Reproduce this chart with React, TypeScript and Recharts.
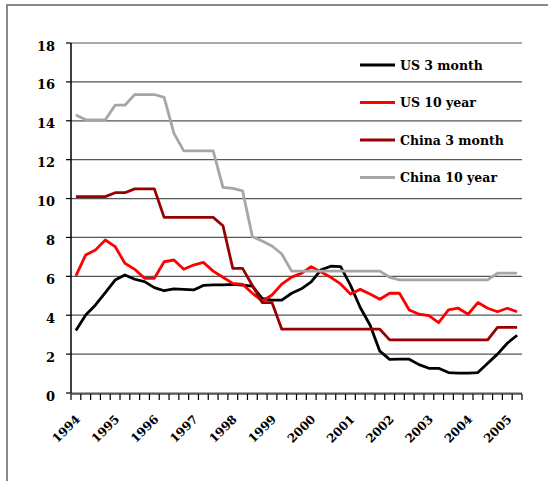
import React from 'react';
import { LineChart, Line, XAxis, YAxis, CartesianGrid } from 'recharts';

// Quarterly categories 1994Q1 .. 2005Q2
const quarters = [
  '1994Q1', '1994Q2', '1994Q3', '1994Q4', '1995Q1', '1995Q2', '1995Q3', '1995Q4',
  '1996Q1', '1996Q2', '1996Q3', '1996Q4', '1997Q1', '1997Q2', '1997Q3', '1997Q4',
  '1998Q1', '1998Q2', '1998Q3', '1998Q4', '1999Q1', '1999Q2', '1999Q3', '1999Q4',
  '2000Q1', '2000Q2', '2000Q3', '2000Q4', '2001Q1', '2001Q2', '2001Q3', '2001Q4',
  '2002Q1', '2002Q2', '2002Q3', '2002Q4', '2003Q1', '2003Q2', '2003Q3', '2003Q4',
  '2004Q1', '2004Q2', '2004Q3', '2004Q4', '2005Q1', '2005Q2',
];

const us3 = [
  3.21, 4.01, 4.53, 5.16, 5.81, 6.07, 5.85, 5.73, 5.42, 5.26, 5.35, 5.33,
  5.30, 5.53, 5.56, 5.56, 5.59, 5.55, 5.50, 4.86, 4.78, 4.78, 5.13, 5.36,
  5.71, 6.33, 6.52, 6.50, 5.55, 4.40, 3.50, 2.15, 1.73, 1.74, 1.74, 1.46,
  1.27, 1.27, 1.05, 1.02, 1.02, 1.05, 1.53, 2.00, 2.56, 2.97,
];
const us10 = [
  6.02, 7.10, 7.36, 7.87, 7.53, 6.67, 6.36, 5.90, 5.90, 6.75, 6.84, 6.36,
  6.58, 6.72, 6.27, 5.95, 5.64, 5.59, 5.13, 4.72, 5.04, 5.60, 5.96, 6.15,
  6.50, 6.22, 5.95, 5.61, 5.09, 5.33, 5.09, 4.82, 5.13, 5.13, 4.27, 4.05,
  3.98, 3.62, 4.27, 4.36, 4.05, 4.65, 4.36, 4.18, 4.36, 4.18,
];
const cn3 = [
  10.1, 10.1, 10.1, 10.1, 10.3, 10.3, 10.5, 10.5, 10.5, 9.03, 9.03, 9.03,
  9.03, 9.03, 9.03, 8.6, 6.41, 6.41, 5.53, 4.65, 4.65, 3.28, 3.28, 3.28,
  3.28, 3.28, 3.28, 3.28, 3.28, 3.28, 3.28, 3.28, 2.73, 2.73, 2.73, 2.73,
  2.73, 2.73, 2.73, 2.73, 2.73, 2.73, 2.73, 3.38, 3.38, 3.38,
];
const cn10 = [
  14.3, 14.05, 14.05, 14.05, 14.8, 14.8, 15.35, 15.35, 15.35, 15.2, 13.35, 12.45,
  12.45, 12.45, 12.45, 10.58, 10.52, 10.4, 8.04, 7.82, 7.56, 7.15, 6.27, 6.27,
  6.27, 6.27, 6.27, 6.27, 6.27, 6.27, 6.27, 6.27, 5.95, 5.82, 5.82, 5.82,
  5.82, 5.82, 5.82, 5.82, 5.82, 5.82, 5.82, 6.16, 6.16, 6.16,
];

const yTicks = [0, 2, 4, 6, 8, 10, 12, 14, 16, 18];

const seriesKeys = ['us3', 'us10', 'cn3', 'cn10'];
const seriesNames = ['US 3 month', 'US 10 year', 'China 3 month', 'China 10 year'];
const seriesColors = ['#000000', '#ff0000', '#990000', '#a6a6a6'];
const seriesValues = [us3, us10, cn3, cn10];

const rows = quarters.map((q, i) => {
  const r: any = { pos: i + 0.5, quarter: q };
  seriesKeys.forEach((k, s) => {
    r[k] = seriesValues[s][i];
  });
  return r;
});

// category boundaries (minor tick marks) and year label positions (first quarter of each year)
const boundaryTicks = quarters.map((_, i) => i).concat([quarters.length]);
const yearTicks = quarters
  .map((q, i) => (q.endsWith('Q1') ? i + 0.5 : null))
  .filter((v) => v !== null) as number[];
const yearOf = (v: number) => quarters[Math.floor(v)].slice(0, 4);

const FONT = '"DejaVu Serif", serif';

const NoTick = () => null;

const YearTick = (props: any) => {
  const { x, y, payload } = props;
  return (
    <g transform={`translate(${x + 5},${y + 27}) rotate(-45)`}>
      <text x={0} y={0} textAnchor="end" fontFamily={FONT} fontWeight="bold" fontSize={12} fill="#000">
        {yearOf(payload.value as number)}
      </text>
    </g>
  );
};

const ValueTick = (props: any) => {
  const { x, y, payload } = props;
  return (
    <text x={x} y={y} dy={7.5} textAnchor="end" fontFamily={FONT} fontWeight="bold" fontSize={13} fill="#000">
      {payload.value}
    </text>
  );
};

export default function App() {
  return (
    <div style={{ position: 'absolute', left: 0, top: 0, width: 548, height: 481, background: '#fff', overflow: 'hidden' }}>
      <div
        style={{
          position: 'absolute',
          left: 6,
          top: 4,
          width: 560,
          height: 500,
          borderLeft: '2px solid #8a8a8a',
          borderTop: '2px solid #8a8a8a',
          boxSizing: 'border-box',
        }}
      />
      <div style={{ position: 'absolute', left: 0, top: 0 }}>
        <LineChart width={548} height={481} data={rows} margin={{ top: 43, right: 26, bottom: 0, left: 0 }}>
          <CartesianGrid vertical={false} stroke="#555" strokeWidth={1.2} xAxisId="minor" yAxisId="left" />
          <XAxis
            xAxisId="minor"
            type="number"
            dataKey="pos"
            domain={[0, quarters.length]}
            ticks={boundaryTicks}
            interval={0}
            tick={<NoTick />}
            tickSize={6}
            height={87}
            axisLine={{ stroke: '#000', strokeWidth: 1.2 }}
            tickLine={{ stroke: '#000', strokeWidth: 1.2 }}
          />
          <XAxis
            xAxisId="lab"
            type="number"
            dataKey="pos"
            domain={[0, quarters.length]}
            ticks={yearTicks}
            interval={0}
            tick={<YearTick />}
            tickSize={0}
            tickMargin={0}
            height={1}
            axisLine={false}
            tickLine={false}
          />
          <YAxis
            yAxisId="left"
            type="number"
            domain={[0, 18]}
            ticks={yTicks}
            interval={0}
            width={71}
            tickSize={5}
            tickMargin={11}
            tick={<ValueTick />}
            axisLine={{ stroke: '#000', strokeWidth: 1.5 }}
            tickLine={{ stroke: '#000', strokeWidth: 1.2 }}
          />
          <YAxis
            yAxisId="right"
            orientation="right"
            type="number"
            domain={[0, 18]}
            width={0}
            tick={false}
            tickLine={false}
            axisLine={{ stroke: '#000', strokeWidth: 1.5 }}
          />
          {seriesKeys.map((k, s) => (
            <Line
              key={k}
              xAxisId="minor"
              yAxisId="left"
              type="linear"
              dataKey={k}
              name={seriesNames[s]}
              stroke={seriesColors[s]}
              strokeWidth={2.8}
              strokeLinejoin="round"
              dot={false}
              activeDot={false}
              isAnimationActive={false}
            />
          ))}
        </LineChart>
      </div>
      <svg width={548} height={481} style={{ position: 'absolute', left: 0, top: 0, pointerEvents: 'none' }}>
        {seriesNames.map((n, s) => {
          const cy = 65 + s * 37.5;
          return (
            <g key={n}>
              <line x1={360} x2={395} y1={cy} y2={cy} stroke={seriesColors[s]} strokeWidth={3} />
              <text x={400} y={cy + 4.5} fontFamily={FONT} fontWeight="bold" fontSize={12.5} fill="#000">
                {n}
              </text>
            </g>
          );
        })}
      </svg>
    </div>
  );
}
